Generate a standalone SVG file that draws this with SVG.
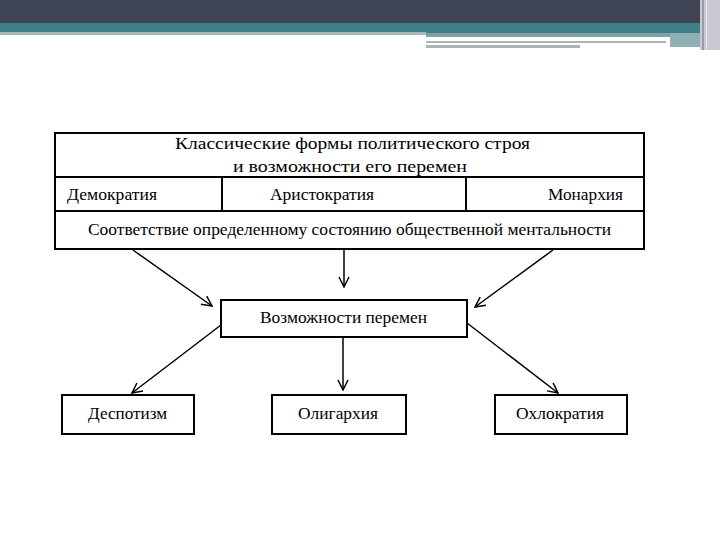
<svg xmlns="http://www.w3.org/2000/svg" width="720" height="540" viewBox="0 0 720 540">
<style>
.box{fill:#fff;stroke:#000;stroke-width:2}
.ln{fill:none;stroke:#000;stroke-width:2}
.t{font-family:"Liberation Serif","Times New Roman",serif;font-size:16px;fill:#000}
.c{text-anchor:middle}
.ar{fill:none;stroke:#000;stroke-width:1.5}
</style>
<defs>
<marker id="ah" viewBox="0 0 12 12" refX="11" refY="6" markerWidth="12" markerHeight="12" markerUnits="userSpaceOnUse" orient="auto">
<path d="M1,1 L11,6 L1,11" fill="none" stroke="#000" stroke-width="1.5"/>
</marker>
</defs>
<rect width="720" height="540" fill="#fff"/>
<g id="header">
<rect x="0" y="0" width="720" height="23" fill="#3f4455"/>
<rect x="0" y="23" width="720" height="10" fill="#3c7f87"/>
<rect x="0" y="32" width="426" height="3" fill="#a8b9bd"/>
<rect x="426" y="33" width="244" height="4" fill="#7fa2a6"/>
<rect x="426" y="41" width="240" height="2" fill="#a9b6b6"/>
<rect x="426" y="45" width="154" height="3" fill="#a9b4b4"/>
<rect x="670" y="33" width="30" height="14" fill="#8fb0b4"/>
<rect x="700" y="0" width="20" height="50" fill="#c9c9d2"/>
<rect x="702" y="0" width="2" height="50" fill="#9a9aa8"/>
<rect x="706" y="0" width="1" height="50" fill="#e8e8ee"/>
</g>
<g id="top">
<rect class="box" x="55" y="133" width="589" height="116"/>
<line class="ln" x1="55" y1="177" x2="644" y2="177"/>
<line class="ln" x1="55" y1="211" x2="644" y2="211"/>
<line class="ln" x1="222" y1="177" x2="222" y2="211"/>
<line class="ln" x1="466" y1="177" x2="466" y2="211"/>
<text class="t" x="175" y="149" textLength="355" lengthAdjust="spacingAndGlyphs">Классические формы политического строя</text>
<text class="t" x="233" y="172" textLength="234" lengthAdjust="spacingAndGlyphs">и возможности его перемен</text>
<text class="t" x="67" y="200" textLength="90" lengthAdjust="spacingAndGlyphs">Демократия</text>
<text class="t" x="270" y="200" textLength="104" lengthAdjust="spacingAndGlyphs">Аристократия</text>
<text class="t" x="548" y="200" textLength="75" lengthAdjust="spacingAndGlyphs">Монархия</text>
<text class="t" x="88" y="235" textLength="523" lengthAdjust="spacingAndGlyphs">Соответствие определенному состоянию общественной ментальности</text>
</g>
<g id="changes">
<rect class="box" x="221" y="300" width="246" height="37"/>
<text class="t" x="260" y="323" textLength="167" lengthAdjust="spacingAndGlyphs">Возможности перемен</text>
</g>
<g id="despotism">
<rect class="box" x="62" y="395" width="132" height="39"/>
<text class="t" x="88" y="419" textLength="79" lengthAdjust="spacingAndGlyphs">Деспотизм</text>
</g>
<g id="oligarchy">
<rect class="box" x="272" y="395" width="134" height="39"/>
<text class="t" x="298" y="419" textLength="80" lengthAdjust="spacingAndGlyphs">Олигархия</text>
</g>
<g id="ochlocracy">
<rect class="box" x="495" y="395" width="132" height="39"/>
<text class="t" x="516" y="419" textLength="88" lengthAdjust="spacingAndGlyphs">Охлократия</text>
</g>
<g id="connectors">
<line class="ar" x1="133" y1="250" x2="212" y2="306" marker-end="url(#ah)"/>
<line class="ar" x1="344" y1="250" x2="344" y2="287" marker-end="url(#ah)"/>
<line class="ar" x1="553" y1="250" x2="475" y2="307" marker-end="url(#ah)"/>
<line class="ar" x1="221" y1="325" x2="132" y2="393" marker-end="url(#ah)"/>
<line class="ar" x1="343" y1="337" x2="343" y2="390" marker-end="url(#ah)"/>
<line class="ar" x1="467" y1="323" x2="558" y2="393" marker-end="url(#ah)"/>
</g>
</svg>
